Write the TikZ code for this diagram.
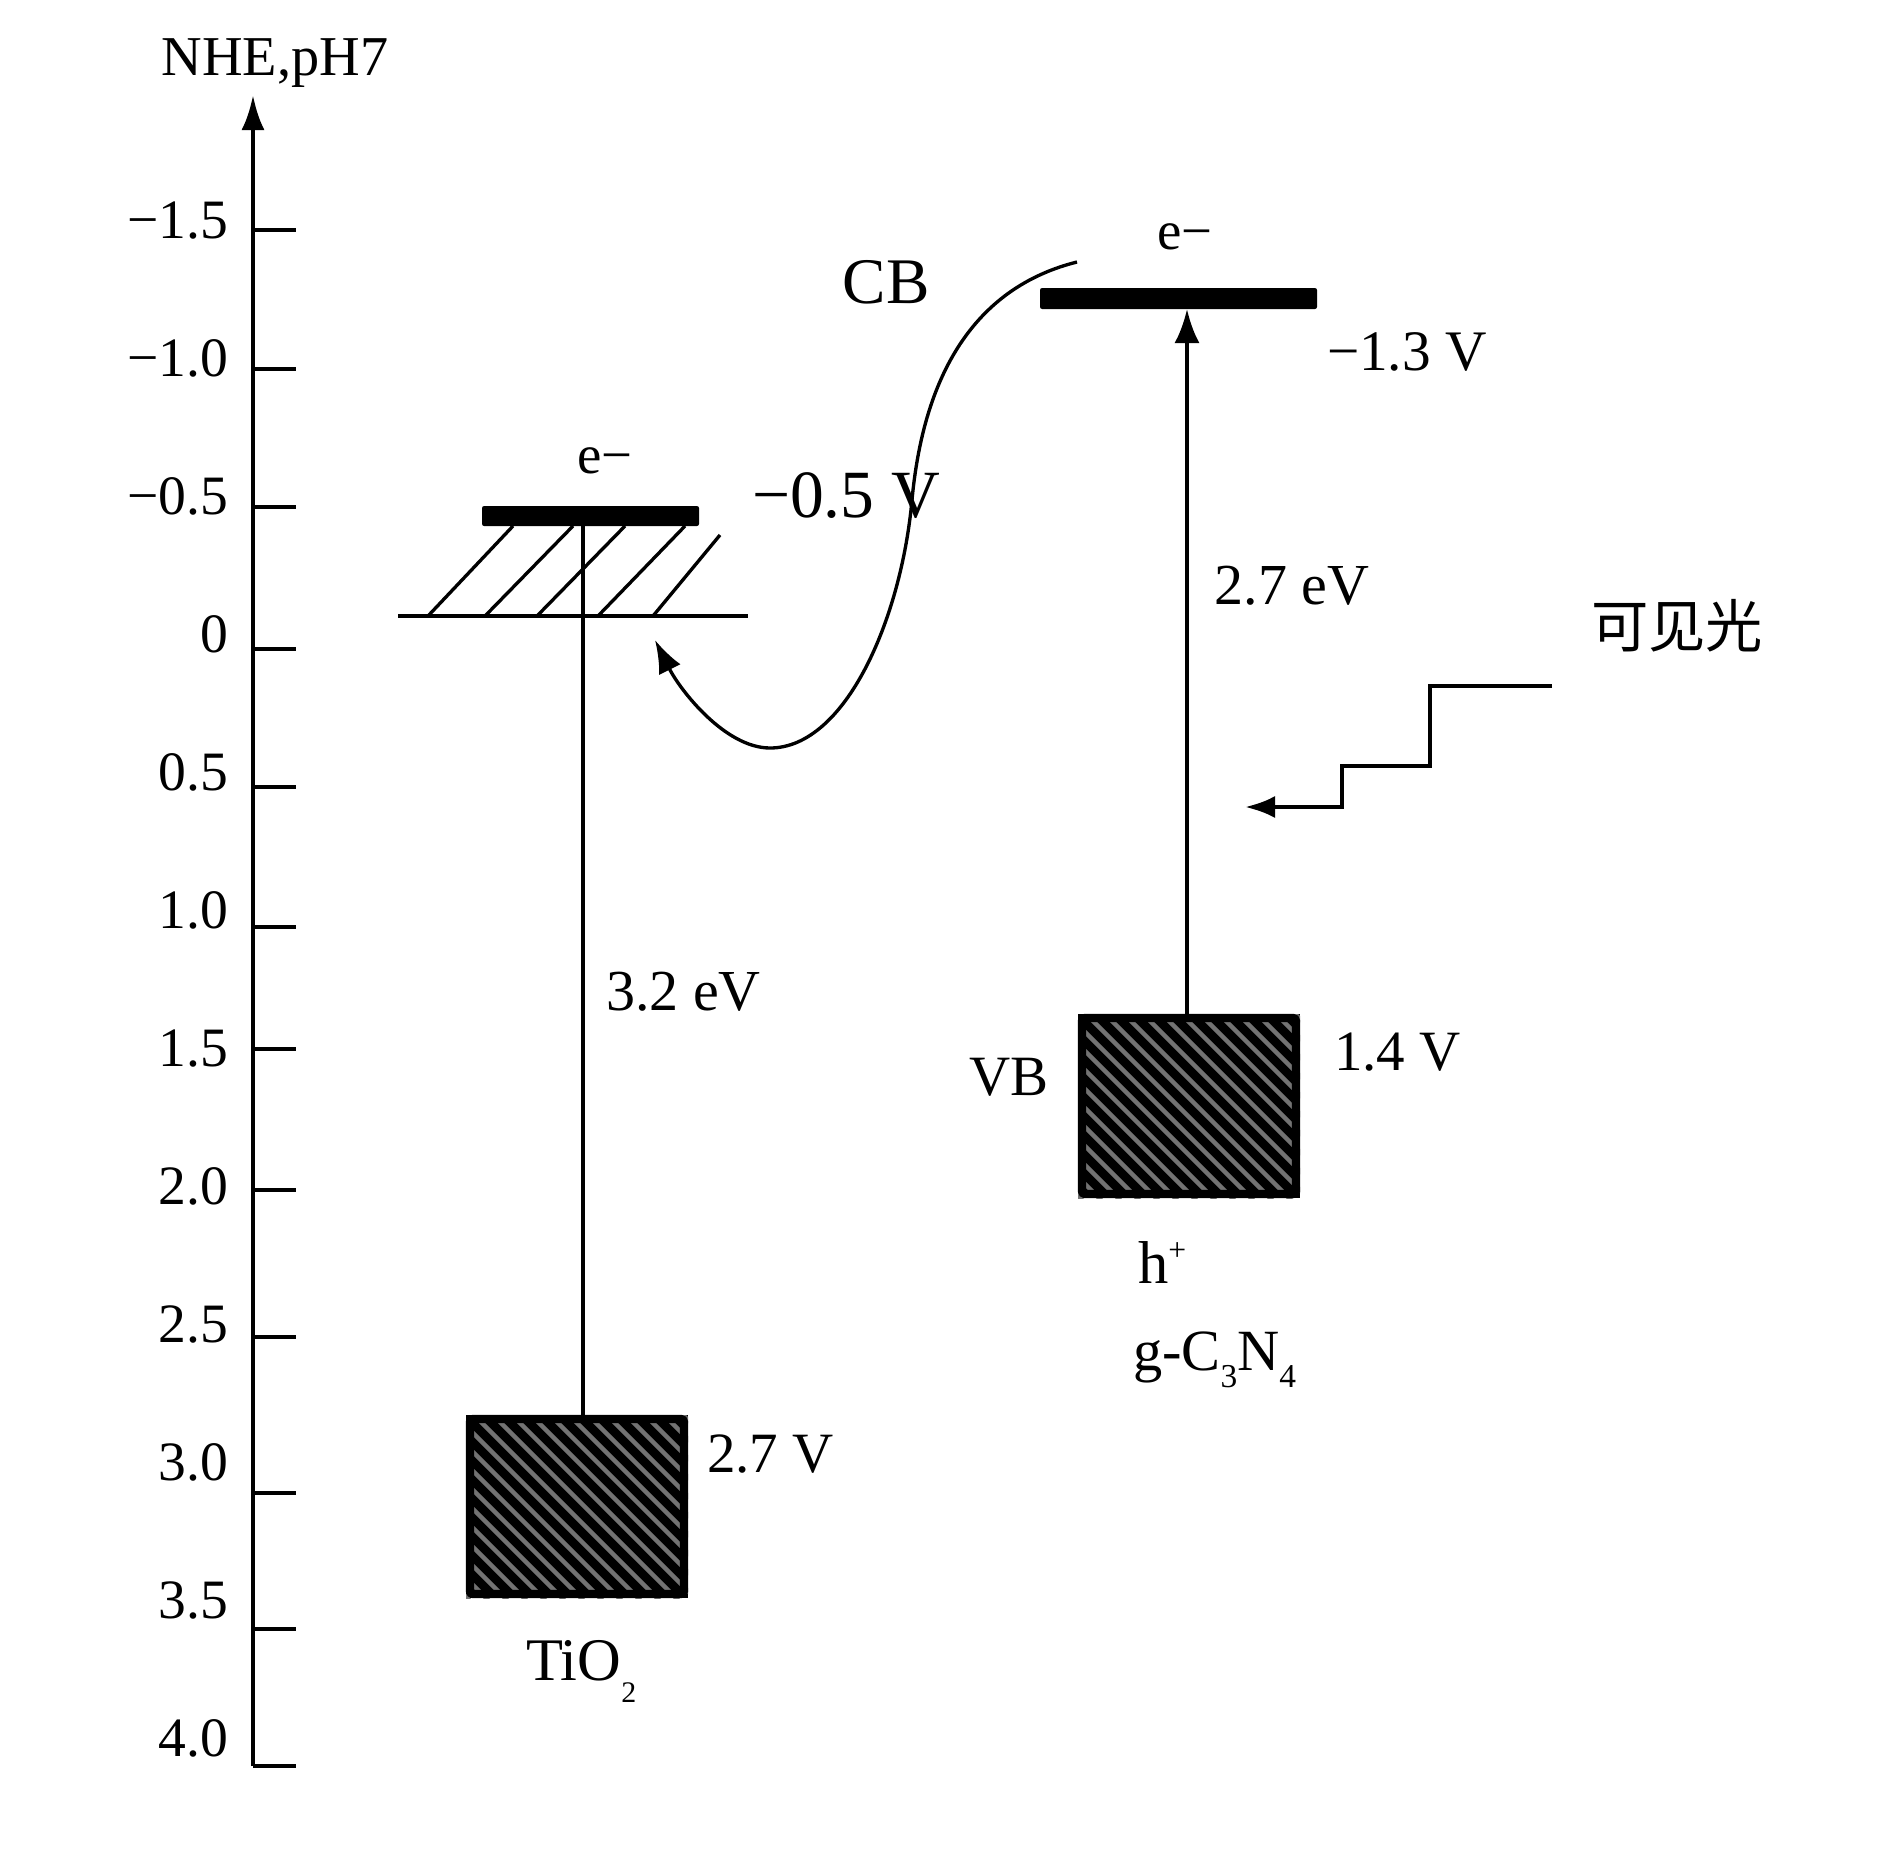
\documentclass[tikz,border=0pt]{standalone}
\usepackage{fontspec}
\setmainfont{Liberation Serif}
\newfontfamily\cjk{Noto Sans CJK SC}
\usetikzlibrary{arrows.meta}
\newcommand\fsz[1]{\fontsize{#1}{#1}\selectfont}
\begin{document}
\begin{tikzpicture}[x=0.01cm,y=-0.01cm,
  txt/.style={inner sep=0pt, outer sep=0pt},
  axisline/.style={line width=1.4pt},
  thinline/.style={line width=0.95pt},
  hatchline/.style={line width=0.95pt},
  cbbar/.style={fill=black, rounded corners=0.6pt},
  vbborder/.style={line width=2.3pt, rounded corners=0.8pt},
  stripe/.style={draw=black!55, line width=1.3pt},
]
\useasboundingbox (0,0) rectangle (1887,1860);

% ---------- axis ----------
\coordinate (axbot) at (253,1766);
\coordinate (axtop) at (253,95);
\draw[axisline, -{Latex[length=3.5mm,width=2.3mm]}] (axbot) -- (axtop);
\node[txt, anchor=base] (nhe) at (275,75) {\fsz{16}NHE,pH7};
\foreach \lab/\ty [count=\i from 0] in {−1.5/230, −1.0/369, −0.5/507, 0/649, 0.5/787, 1.0/927, 1.5/1049, 2.0/1190, 2.5/1337, 3.0/1493, 3.5/1629, 4.0/1766} {
  \coordinate (tk\i) at (253,\ty);
  \draw[axisline] (tk\i) -- ++(43,0);
  \node[txt, anchor=base east] (tl\i) at (228, 238+138*\i) {\fsz{15.8}\lab};
}

% ---------- TiO2 ----------
\coordinate (tcb) at (583,526);
\coordinate (tvb) at (583,1415);
\foreach \bx/\tx in {428/513, 485/573, 537/625, 598/685} {
  \draw[hatchline] (\bx,616) -- (\tx,526);
}
\draw[hatchline] (653,616) -- (720,535);
\draw[line width=1.3pt] (398,616) -- (748,616);
\fill[cbbar] (482,506) rectangle (699,526);
\draw[thinline] (tcb) -- (tvb);
\begin{scope}
  \clip (466,1415) rectangle (688,1598);
  \fill[black] (466,1415) rectangle (688,1598);
  \foreach \k in {-220,-201,...,240} {
    \draw[stripe] (466+\k,1415) -- ++(210,210);
  }
\end{scope}
\draw[vbborder] (470,1419) rectangle (684,1594);

% ---------- g-C3N4 ----------
\coordinate (gcb) at (1187,309);
\coordinate (gvb) at (1187,1014);
\fill[cbbar] (1040,288) rectangle (1317,309);
\begin{scope}
  \clip (1078,1014) rectangle (1300,1198);
  \fill[black] (1078,1014) rectangle (1300,1198);
  \foreach \k in {-220,-201,...,240} {
    \draw[stripe] (1078+\k,1014) -- ++(210,210);
  }
\end{scope}
\draw[vbborder] (1082,1018) rectangle (1296,1194);
\draw[line width=1.2pt, -{Latex[length=3.4mm,width=2.5mm]}] (gvb) -- (gcb);

% ---------- electron transfer curve ----------
\coordinate (cstart) at (1077,262);
\coordinate (ctip) at (655,640);
\draw[thinline, -{Latex[length=3.3mm,width=2.4mm]}] (cstart)
  .. controls (985,285) and (925,360) .. (912,500)
  .. controls (901,620) and (845,748) .. (770,748)
  .. controls (725,748) and (680,690) .. (ctip);

% ---------- visible light ----------
\coordinate (lstart) at (1552,686);
\coordinate (lend) at (1245,807);
\draw[line width=1.2pt, -{Latex[length=3mm,width=2.2mm]}] (lstart) -| (1430,766) -| (1342,807) -- (lend);

% ---------- labels ----------
\node[txt, anchor=base] (et) at (605,473) {\fsz{15.6}e−};
\node[txt, anchor=base west] (tcbv) at (752,517) {\fsz{19.2}−0.5 V};
\node[txt, anchor=base] (cb) at (886,303) {\fsz{18.5}CB};
\node[txt, anchor=base] (eg) at (1185,249) {\fsz{15.6}e−};
\node[txt, anchor=base west] (gcbv) at (1327,370) {\fsz{16.3}−1.3 V};
\node[txt, anchor=base] (geg) at (1292,604) {\fsz{16.5}2.7 eV};
\node[txt, anchor=base west] (teg) at (606,1010) {\fsz{16.5}3.2 eV};
\node[txt, anchor=base] (vb) at (1009,1095) {\fsz{16.2}VB};
\node[txt, anchor=base west] (gvbv) at (1334,1070) {\fsz{16.2}1.4 V};
\node[txt, anchor=base west] (tvbv) at (707,1472) {\fsz{16.2}2.7 V};
\node[txt, anchor=base west] (tio) at (526,1680) {\fsz{17.2}TiO\raisebox{-6.3pt}{\fsz{8.5}2}};
\node[txt, anchor=base west] (hp) at (1138,1283) {\fsz{17.2}h\raisebox{6.5pt}{\fsz{9}+}};
\node[txt, anchor=base west] (gcn) at (1133,1370) {\fsz{16.6}g-C\raisebox{-5pt}{\fsz{9.5}3}N\raisebox{-5pt}{\fsz{9.5}4}};
\node[txt, anchor=base west] (vis) at (1591,647) {\cjk\fsz{16.3}可见光};
\end{tikzpicture}
\end{document}
